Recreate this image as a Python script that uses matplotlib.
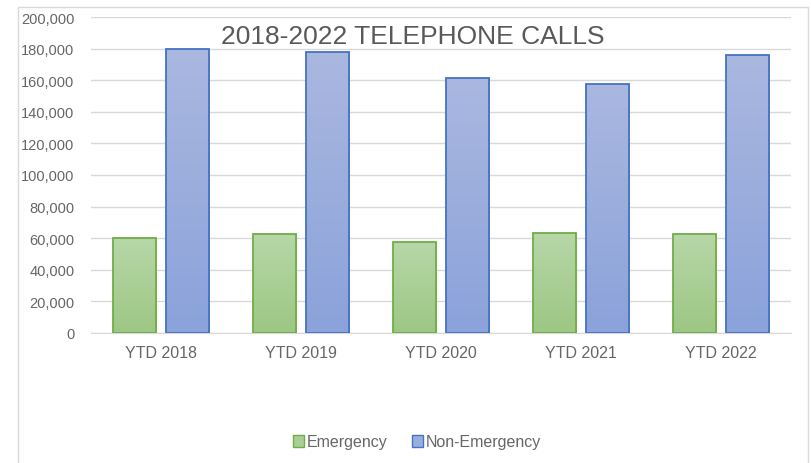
import matplotlib
matplotlib.use("Agg")
import matplotlib.pyplot as plt
import numpy as np
from matplotlib.patches import Rectangle
from matplotlib.colors import LinearSegmentedColormap
from matplotlib.ticker import FuncFormatter

# ── Data ───────────────────────────────────────────────
years = ["YTD 2018", "YTD 2019", "YTD 2020", "YTD 2021", "YTD 2022"]
emergency = [60000, 62700, 57400, 63500, 62900]
non_emergency = [179500, 177600, 161200, 157600, 175800]

# ── Style ──────────────────────────────────────────────
plt.rcParams["font.family"] = ["Liberation Sans", "DejaVu Sans"]
text_gray = "#666666"
title_gray = "#595959"
grid_gray = "#d9d9d9"

green_edge, blue_edge = "#70ad47", "#4472c4"
green_cmap = LinearSegmentedColormap.from_list("g", ["#9dc784", "#b7d7a8"])
blue_cmap = LinearSegmentedColormap.from_list("b", ["#8ba2da", "#aab8e0"])

fig = plt.figure(figsize=(8.11, 4.64), dpi=100)
ax = fig.add_axes([0.1122, 0.2802, 0.8631, 0.6810])

x = np.arange(len(years))
width = 0.31
offset = 0.19


def gradient_bars(xpos, values, cmap, edge):
    bars = ax.bar(xpos, values, width, facecolor="none", edgecolor=edge,
                  linewidth=1.3, zorder=3)
    grad = np.linspace(0, 1, 256).reshape(-1, 1)
    for b in bars:
        x0, y0 = b.get_x(), b.get_y()
        im = ax.imshow(grad, cmap=cmap, origin="lower", aspect="auto",
                       extent=[x0, x0 + b.get_width(), y0, y0 + b.get_height()],
                       zorder=2)
        im.set_clip_path(b)
    return bars


gradient_bars(x - offset, emergency, green_cmap, green_edge)
gradient_bars(x + offset, non_emergency, blue_cmap, blue_edge)

ax.set_xlim(-0.5, len(years) - 0.5)
ax.set_ylim(0, 200000)
ax.set_yticks(np.arange(0, 200001, 20000))
ax.yaxis.set_major_formatter(FuncFormatter(lambda v, p: f"{int(v):,}"))
ax.set_xticks(x)
ax.set_xticklabels(years)
ax.tick_params(axis="both", length=0, colors=text_gray)
ax.tick_params(axis="y", pad=12, labelsize=10.5)
ax.tick_params(axis="x", pad=9, labelsize=11.5)
ax.grid(axis="y", color=grid_gray, linewidth=1, zorder=0)
ax.set_axisbelow(True)
for s in ["top", "right", "left"]:
    ax.spines[s].set_visible(False)
ax.spines["bottom"].set_color(grid_gray)

# ── Title over the plot ────────────────────────────────
fig.text(413 / 811, 1 - 37 / 464, "2018-2022 TELEPHONE CALLS", ha="center",
         va="center", fontsize=19, color=title_gray)

# ── Legend ─────────────────────────────────────────────
handles = [Rectangle((0, 0), 1, 1, facecolor="#a9cf95", edgecolor=green_edge),
           Rectangle((0, 0), 1, 1, facecolor="#9aaede", edgecolor=blue_edge)]
leg = fig.legend(handles, ["Emergency", "Non-Emergency"], loc="center",
                 bbox_to_anchor=(417 / 811, 1 - 443 / 464), ncol=2, frameon=False,
                 fontsize=11.5, handlelength=0.7, handleheight=0.7,
                 handletextpad=0.2, columnspacing=1.5)
for t in leg.get_texts():
    t.set_color(text_gray)

# ── Chart area border ──────────────────────────────────
fig.patches.append(Rectangle((18 / 811, -0.05), 790 / 811, 1.05 - 8 / 464,
                             transform=fig.transFigure, fill=False,
                             edgecolor=grid_gray, linewidth=1))

fig.savefig("out.png", dpi=100)
plt.close(fig)
